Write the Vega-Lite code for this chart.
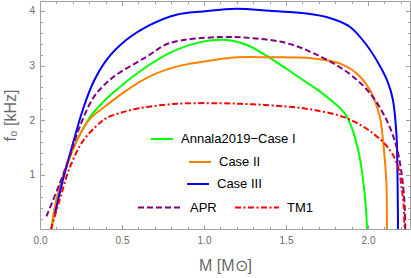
{
  "$schema": "https://vega.github.io/schema/vega-lite/v6.json",
  "width": 370,
  "height": 228,
  "autosize": "none",
  "padding": {"left": 40, "top": 1, "right": 1, "bottom": 49},
  "background": "white",
  "data": {"values": [
    {"name": "Annala2019−Case I", "i": 0, "M": 0.070, "f": 0.0},
    {"name": "Annala2019−Case I", "i": 1, "M": 0.100, "f": 0.54},
    {"name": "Annala2019−Case I", "i": 2, "M": 0.161, "f": 1.15},
    {"name": "Annala2019−Case I", "i": 3, "M": 0.222, "f": 1.61},
    {"name": "Annala2019−Case I", "i": 4, "M": 0.303, "f": 2.05},
    {"name": "Annala2019−Case I", "i": 5, "M": 0.384, "f": 2.33},
    {"name": "Annala2019−Case I", "i": 6, "M": 0.445, "f": 2.50},
    {"name": "Annala2019−Case I", "i": 7, "M": 0.608, "f": 2.89},
    {"name": "Annala2019−Case I", "i": 8, "M": 0.791, "f": 3.23},
    {"name": "Annala2019−Case I", "i": 9, "M": 0.954, "f": 3.41},
    {"name": "Annala2019−Case I", "i": 10, "M": 1.116, "f": 3.47},
    {"name": "Annala2019−Case I", "i": 11, "M": 1.259, "f": 3.38},
    {"name": "Annala2019−Case I", "i": 12, "M": 1.401, "f": 3.14},
    {"name": "Annala2019−Case I", "i": 13, "M": 1.523, "f": 2.90},
    {"name": "Annala2019−Case I", "i": 14, "M": 1.600, "f": 2.74},
    {"name": "Annala2019−Case I", "i": 15, "M": 1.700, "f": 2.54},
    {"name": "Annala2019−Case I", "i": 16, "M": 1.780, "f": 2.35},
    {"name": "Annala2019−Case I", "i": 17, "M": 1.830, "f": 2.22},
    {"name": "Annala2019−Case I", "i": 18, "M": 1.868, "f": 2.08},
    {"name": "Annala2019−Case I", "i": 19, "M": 1.895, "f": 1.91},
    {"name": "Annala2019−Case I", "i": 20, "M": 1.919, "f": 1.70},
    {"name": "Annala2019−Case I", "i": 21, "M": 1.944, "f": 1.40},
    {"name": "Annala2019−Case I", "i": 22, "M": 1.965, "f": 1.02},
    {"name": "Annala2019−Case I", "i": 23, "M": 1.980, "f": 0.64},
    {"name": "Annala2019−Case I", "i": 24, "M": 1.989, "f": 0.32},
    {"name": "Annala2019−Case I", "i": 25, "M": 1.994, "f": 0.0},

    {"name": "Case II", "i": 0, "M": 0.070, "f": 0.0},
    {"name": "Case II", "i": 1, "M": 0.100, "f": 0.54},
    {"name": "Case II", "i": 2, "M": 0.161, "f": 1.15},
    {"name": "Case II", "i": 3, "M": 0.222, "f": 1.61},
    {"name": "Case II", "i": 4, "M": 0.303, "f": 2.02},
    {"name": "Case II", "i": 5, "M": 0.405, "f": 2.27},
    {"name": "Case II", "i": 6, "M": 0.506, "f": 2.50},
    {"name": "Case II", "i": 7, "M": 0.669, "f": 2.80},
    {"name": "Case II", "i": 8, "M": 0.832, "f": 2.98},
    {"name": "Case II", "i": 9, "M": 0.994, "f": 3.07},
    {"name": "Case II", "i": 10, "M": 1.198, "f": 3.15},
    {"name": "Case II", "i": 11, "M": 1.401, "f": 3.15},
    {"name": "Case II", "i": 12, "M": 1.665, "f": 3.13},
    {"name": "Case II", "i": 13, "M": 1.827, "f": 3.04},
    {"name": "Case II", "i": 14, "M": 1.929, "f": 2.86},
    {"name": "Case II", "i": 15, "M": 2.010, "f": 2.56},
    {"name": "Case II", "i": 16, "M": 2.071, "f": 2.07},
    {"name": "Case II", "i": 17, "M": 2.091, "f": 1.64},
    {"name": "Case II", "i": 18, "M": 2.112, "f": 0.85},
    {"name": "Case II", "i": 19, "M": 2.115, "f": 0.0},

    {"name": "Case III", "i": 0, "M": 0.090, "f": 0.27},
    {"name": "Case III", "i": 1, "M": 0.140, "f": 0.91},
    {"name": "Case III", "i": 2, "M": 0.201, "f": 1.58},
    {"name": "Case III", "i": 3, "M": 0.262, "f": 2.20},
    {"name": "Case III", "i": 4, "M": 0.323, "f": 2.68},
    {"name": "Case III", "i": 5, "M": 0.405, "f": 3.10},
    {"name": "Case III", "i": 6, "M": 0.527, "f": 3.47},
    {"name": "Case III", "i": 7, "M": 0.669, "f": 3.74},
    {"name": "Case III", "i": 8, "M": 0.832, "f": 3.93},
    {"name": "Case III", "i": 9, "M": 0.994, "f": 3.99},
    {"name": "Case III", "i": 10, "M": 1.198, "f": 4.04},
    {"name": "Case III", "i": 11, "M": 1.401, "f": 4.00},
    {"name": "Case III", "i": 12, "M": 1.624, "f": 3.95},
    {"name": "Case III", "i": 13, "M": 1.767, "f": 3.87},
    {"name": "Case III", "i": 14, "M": 1.889, "f": 3.71},
    {"name": "Case III", "i": 15, "M": 1.990, "f": 3.38},
    {"name": "Case III", "i": 16, "M": 2.071, "f": 3.00},
    {"name": "Case III", "i": 17, "M": 2.120, "f": 2.70},
    {"name": "Case III", "i": 18, "M": 2.152, "f": 2.37},
    {"name": "Case III", "i": 19, "M": 2.173, "f": 1.76},
    {"name": "Case III", "i": 20, "M": 2.179, "f": 1.15},
    {"name": "Case III", "i": 21, "M": 2.183, "f": 0.0},

    {"name": "APR", "i": 0, "M": 0.039, "f": 0.24},
    {"name": "APR", "i": 1, "M": 0.120, "f": 0.84},
    {"name": "APR", "i": 2, "M": 0.181, "f": 1.34},
    {"name": "APR", "i": 3, "M": 0.242, "f": 1.88},
    {"name": "APR", "i": 4, "M": 0.323, "f": 2.40},
    {"name": "APR", "i": 5, "M": 0.390, "f": 2.64},
    {"name": "APR", "i": 6, "M": 0.466, "f": 2.83},
    {"name": "APR", "i": 7, "M": 0.649, "f": 3.16},
    {"name": "APR", "i": 8, "M": 0.791, "f": 3.41},
    {"name": "APR", "i": 9, "M": 1.096, "f": 3.52},
    {"name": "APR", "i": 10, "M": 1.299, "f": 3.50},
    {"name": "APR", "i": 11, "M": 1.502, "f": 3.41},
    {"name": "APR", "i": 12, "M": 1.665, "f": 3.23},
    {"name": "APR", "i": 13, "M": 1.868, "f": 2.89},
    {"name": "APR", "i": 14, "M": 2.010, "f": 2.50},
    {"name": "APR", "i": 15, "M": 2.112, "f": 2.01},
    {"name": "APR", "i": 16, "M": 2.173, "f": 1.52},
    {"name": "APR", "i": 17, "M": 2.204, "f": 1.04},
    {"name": "APR", "i": 18, "M": 2.224, "f": 0.42},
    {"name": "APR", "i": 19, "M": 2.227, "f": 0.0},

    {"name": "TM1", "i": 0, "M": 0.066, "f": 0.0},
    {"name": "TM1", "i": 1, "M": 0.120, "f": 0.54},
    {"name": "TM1", "i": 2, "M": 0.181, "f": 1.13},
    {"name": "TM1", "i": 3, "M": 0.262, "f": 1.62},
    {"name": "TM1", "i": 4, "M": 0.364, "f": 1.95},
    {"name": "TM1", "i": 5, "M": 0.405, "f": 2.04},
    {"name": "TM1", "i": 6, "M": 0.486, "f": 2.13},
    {"name": "TM1", "i": 7, "M": 0.608, "f": 2.22},
    {"name": "TM1", "i": 8, "M": 0.832, "f": 2.30},
    {"name": "TM1", "i": 9, "M": 1.096, "f": 2.31},
    {"name": "TM1", "i": 10, "M": 1.299, "f": 2.29},
    {"name": "TM1", "i": 11, "M": 1.502, "f": 2.25},
    {"name": "TM1", "i": 12, "M": 1.665, "f": 2.19},
    {"name": "TM1", "i": 13, "M": 1.868, "f": 2.04},
    {"name": "TM1", "i": 14, "M": 2.030, "f": 1.76},
    {"name": "TM1", "i": 15, "M": 2.132, "f": 1.46},
    {"name": "TM1", "i": 16, "M": 2.183, "f": 1.15},
    {"name": "TM1", "i": 17, "M": 2.204, "f": 0.79},
    {"name": "TM1", "i": 18, "M": 2.218, "f": 0.42},
    {"name": "TM1", "i": 19, "M": 2.222, "f": 0.0}
  ]},
  "layer": [
    {
      "transform": [{"filter": "datum.name == 'Annala2019−Case I'"}],
      "mark": {"type": "line", "strokeWidth": 2, "clip": true, "interpolate": "catmull-rom"},
      "encoding": {
        "x": {"field": "M", "type": "quantitative",
          "scale": {"domain": [0, 2.256], "nice": false, "zero": false},
          "axis": {"orient": "bottom", "title": "M [M⊙]",
            "values": [0,0.1,0.2,0.3,0.4,0.5,0.6,0.7,0.8,0.9,1,1.1,1.2,1.3,1.4,1.5,1.6,1.7,1.8,1.9,2,2.1,2.2],
            "labelExpr": "abs(datum.value*2 - round(datum.value*2)) < 0.001 ? format(datum.value, '.1f') : ''",
            "tickSize": {"condition": {"test": "abs(datum.value*2 - round(datum.value*2)) < 0.001", "value": -4.5}, "value": -2.5},
            "labelPadding": 11, "titlePadding": 10}},
        "y": {"field": "f", "type": "quantitative",
          "scale": {"domain": [0.01, 4.18], "nice": false, "zero": false},
          "axis": {"orient": "left", "title": "f₀ [kHz]",
            "values": [0.2,0.4,0.6,0.8,1,1.2,1.4,1.6,1.8,2,2.2,2.4,2.6,2.8,3,3.2,3.4,3.6,3.8,4],
            "labelExpr": "abs(datum.value - round(datum.value)) < 0.001 ? format(datum.value, 'd') : ''",
            "tickSize": {"condition": {"test": "abs(datum.value - round(datum.value)) < 0.001", "value": -4.5}, "value": -2.5},
            "labelPadding": 10, "titlePadding": 10}},
        "order": {"field": "i", "type": "quantitative"},
        "color": {"field": "name", "type": "nominal",
          "scale": {"domain": ["Annala2019−Case I"], "range": ["#00ff00"]},
          "legend": {"legendX": 110, "legendY": 126, "symbolSize": 484}}
      }
    },
    {
      "transform": [{"filter": "datum.name == 'Case II'"}],
      "mark": {"type": "line", "strokeWidth": 2, "clip": true, "interpolate": "catmull-rom"},
      "encoding": {
        "x": {"field": "M", "type": "quantitative", "scale": {"domain": [0, 2.256], "nice": false, "zero": false}, "axis": null},
        "y": {"field": "f", "type": "quantitative", "scale": {"domain": [0.01, 4.18], "nice": false, "zero": false}, "axis": null},
        "order": {"field": "i", "type": "quantitative"},
        "color": {"field": "name", "type": "nominal",
          "scale": {"domain": ["Case II"], "range": ["#ff8000"]},
          "legend": {"legendX": 148, "legendY": 149, "symbolSize": 484}}
      }
    },
    {
      "transform": [{"filter": "datum.name == 'Case III'"}],
      "mark": {"type": "line", "strokeWidth": 2, "clip": true, "interpolate": "catmull-rom"},
      "encoding": {
        "x": {"field": "M", "type": "quantitative", "scale": {"domain": [0, 2.256], "nice": false, "zero": false},
          "axis": {"orient": "top", "labels": false, "title": null,
            "values": [0,0.1,0.2,0.3,0.4,0.5,0.6,0.7,0.8,0.9,1,1.1,1.2,1.3,1.4,1.5,1.6,1.7,1.8,1.9,2,2.1,2.2],
            "tickSize": {"condition": {"test": "abs(datum.value*2 - round(datum.value*2)) < 0.001", "value": -4.5}, "value": -2.5}}},
        "y": {"field": "f", "type": "quantitative", "scale": {"domain": [0.01, 4.18], "nice": false, "zero": false},
          "axis": {"orient": "right", "labels": false, "title": null,
            "values": [0.2,0.4,0.6,0.8,1,1.2,1.4,1.6,1.8,2,2.2,2.4,2.6,2.8,3,3.2,3.4,3.6,3.8,4],
            "tickSize": {"condition": {"test": "abs(datum.value - round(datum.value)) < 0.001", "value": -4.5}, "value": -2.5}}},
        "order": {"field": "i", "type": "quantitative"},
        "color": {"field": "name", "type": "nominal",
          "scale": {"domain": ["Case III"], "range": ["#0000ff"]},
          "legend": {"legendX": 146, "legendY": 171, "symbolSize": 484}}
      }
    },
    {
      "transform": [{"filter": "datum.name == 'APR' || datum.name == 'TM1'"}],
      "mark": {"type": "line", "strokeWidth": 2, "clip": true, "interpolate": "catmull-rom"},
      "encoding": {
        "x": {"field": "M", "type": "quantitative", "scale": {"domain": [0, 2.256], "nice": false, "zero": false}, "axis": null},
        "y": {"field": "f", "type": "quantitative", "scale": {"domain": [0.01, 4.18], "nice": false, "zero": false}, "axis": null},
        "order": {"field": "i", "type": "quantitative"},
        "color": {"field": "name", "type": "nominal",
          "scale": {"domain": ["APR", "TM1"], "range": ["#800080", "#ff0000"]},
          "legend": {"legendX": 97, "legendY": 183.5, "symbolSize": 1936, "direction": "horizontal", "columnPadding": 14}},
        "strokeDash": {"field": "name", "type": "nominal",
          "scale": {"domain": ["APR", "TM1"], "range": [[6, 3], [6, 2.5, 2, 2.5]]},
          "legend": {"legendX": 97, "legendY": 183.5, "symbolSize": 1936, "direction": "horizontal", "columnPadding": 14}}
      }
    }
  ],
  "resolve": {
    "scale": {"color": "independent", "strokeDash": "independent"},
    "axis": {"x": "independent", "y": "independent"}
  },
  "config": {
    "view": {"stroke": "#a0a0a0", "strokeWidth": 1},
    "axis": {
      "domain": false, "grid": false, "labelFlush": false, "labelOverlap": false, "labelBound": false,
      "tickColor": "#a0a0a0", "tickWidth": 1,
      "labelFont": "Liberation Sans", "labelFontSize": 10, "labelColor": "#6a6a6a",
      "titleFont": "Liberation Sans", "titleFontSize": 16, "titleFontWeight": "normal", "titleColor": "#6a6a6a"
    },
    "legend": {
      "orient": "none", "title": null, "symbolType": "stroke", "symbolStrokeWidth": 2,
      "labelFont": "Liberation Sans", "labelFontSize": 13, "labelColor": "black",
      "labelOffset": 7, "padding": 0, "rowPadding": 0
    }
  }
}
